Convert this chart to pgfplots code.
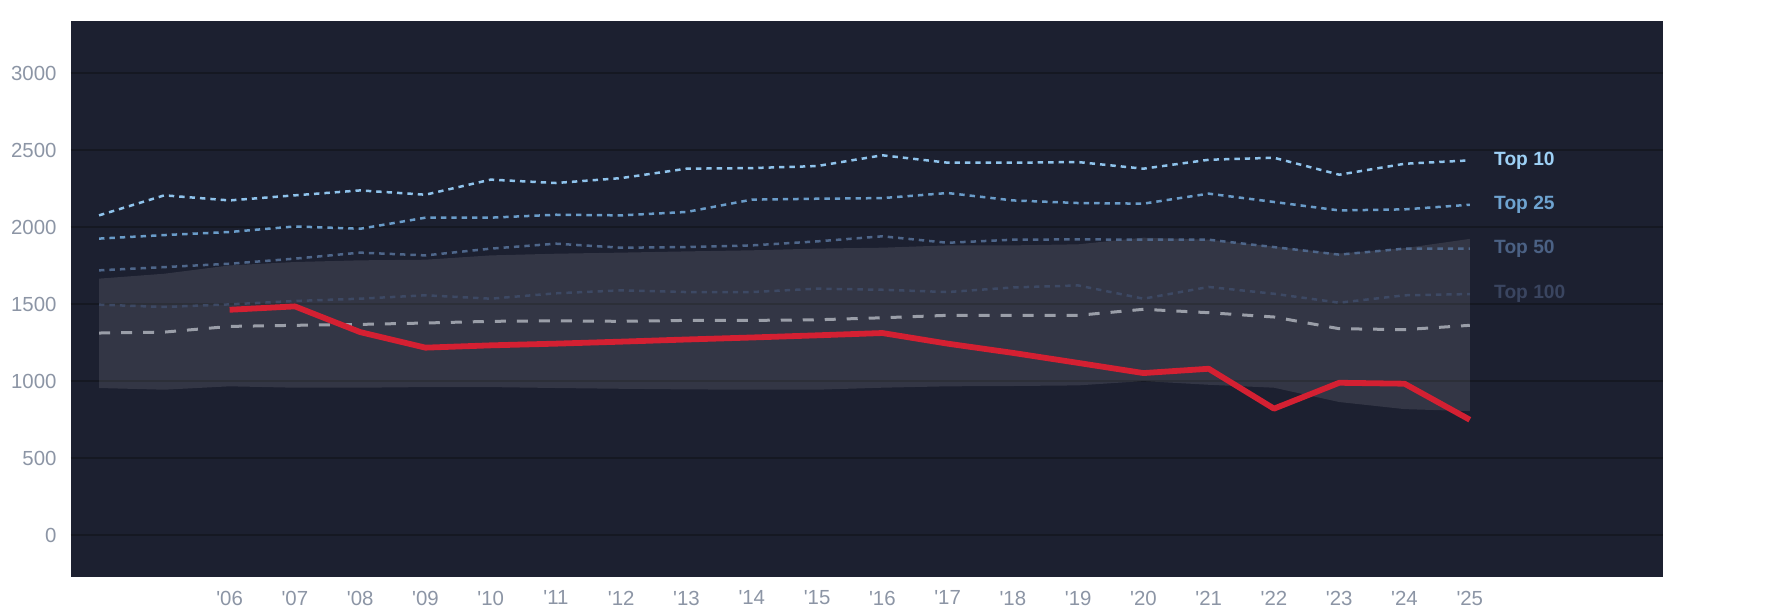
\documentclass[border=0pt]{standalone}
\usepackage{pgfplots}
\pgfplotsset{compat=1.18}
\usepackage{pgfplotstable}
\usepgfplotslibrary{fillbetween}
\usepackage{fontspec}
\setmainfont{Liberation Sans}

\definecolor{bg}{HTML}{1C2030}
\definecolor{gridc}{HTML}{151822}
\definecolor{tickc}{HTML}{8C95A5}
\definecolor{t10}{HTML}{8FC3EC}
\definecolor{t25}{HTML}{6A9CC9}
\definecolor{t50}{HTML}{4E668A}
\definecolor{t100}{HTML}{3D4964}
\definecolor{l10}{HTML}{9DD0F5}
\definecolor{l25}{HTML}{6EA3D0}
\definecolor{l50}{HTML}{4B6184}
\definecolor{l100}{HTML}{3A4560}
\definecolor{med}{HTML}{9A9EA8}
\definecolor{redl}{HTML}{D42032}

\pgfplotstableread{
year t10 t25 t50 t100 med btop bbot
2004 2078 1927 1721 1498 1314 1667 957
2005 2208 1950 1742 1483 1320 1699 946
2006 2175 1970 1764 1500 1357 1753 968
2007 2208 2006 1797 1522 1364 1775 959
2008 2240 1991 1836 1537 1370 1786 959
2009 2212 2063 1818 1559 1379 1790 963
2010 2310 2063 1862 1537 1390 1818 963
2011 2288 2082 1894 1572 1393 1829 957
2012 2320 2078 1868 1591 1390 1836 952
2013 2381 2100 1872 1580 1396 1844 948
2014 2385 2180 1883 1580 1396 1851 946
2015 2398 2186 1909 1602 1400 1862 946
2016 2468 2190 1942 1595 1413 1868 959
2017 2420 2223 1900 1580 1429 1883 968
2018 2420 2175 1920 1610 1429 1883 970
2019 2424 2158 1922 1623 1429 1890 974
2020 2381 2154 1920 1537 1468 1933 1002
2021 2439 2219 1920 1613 1446 1920 978
2022 2452 2165 1872 1569 1418 1875 959
2023 2342 2110 1823 1511 1342 1830 866
2024 2413 2117 1862 1559 1336 1865 820
2025 2435 2147 1862 1567 1364 1925 807
}\tiers

\pgfplotstableread{
year val
2006 1465
2007 1487
2008 1320
2009 1219
2010 1234
2011 1245
2012 1258
2013 1272
2014 1285
2015 1299
2016 1314
2017 1245
2018 1185
2019 1120
2020 1054
2021 1082
2022 823
2023 991
2024 985
2025 751
}\redtab

\begin{document}
\begin{tikzpicture}
\begin{axis}[
  at={(0,0)}, anchor=south west,
  scale only axis,
  width=796pt, height=278pt,
  xmin=2003.57, xmax=2027.96,
  ymin=-270, ymax=3340,
  axis background/.style={fill=bg},
  axis line style={draw=none},
  major tick length=0pt,
  ytick={0,500,1000,1500,2000,2500,3000},
  xtick={2006,2007,2008,2009,2010,2011,2012,2013,2014,2015,2016,2017,2018,2019,2020,2021,2022,2023,2024,2025},
  xticklabels={\textquotesingle06,\textquotesingle07,\textquotesingle08,\textquotesingle09,\textquotesingle10,\textquotesingle11,\textquotesingle12,\textquotesingle13,\textquotesingle14,\textquotesingle15,\textquotesingle16,\textquotesingle17,\textquotesingle18,\textquotesingle19,\textquotesingle20,\textquotesingle21,\textquotesingle22,\textquotesingle23,\textquotesingle24,\textquotesingle25},
  ymajorgrids,
  major grid style={draw=gridc, line width=1pt},
  tick label style={font=\fontsize{10.2}{12}\selectfont, text=tickc},
  yticklabel style={xshift=-3.7pt},
  xticklabel style={yshift=-3.4pt},
  /pgf/number format/1000 sep={},
  /pgf/number format/assume math mode=true,
  clip=false,
]
\addplot[draw=none, name path=btop, forget plot] table[x=year, y=btop] {\tiers};
\addplot[draw=none, name path=bbot, forget plot] table[x=year, y=bbot] {\tiers};
\addplot[fill=white, fill opacity=0.1, draw=none] fill between[of=btop and bbot];

\addplot[t100, line width=1.25pt, dash pattern=on 2.7pt off 2.5pt] table[x=year, y=t100] {\tiers};
\addplot[t50, line width=1.25pt, dash pattern=on 2.7pt off 2.5pt] table[x=year, y=t50] {\tiers};
\addplot[t25, line width=1.25pt, dash pattern=on 2.7pt off 2.5pt] table[x=year, y=t25] {\tiers};
\addplot[t10, line width=1.25pt, dash pattern=on 2.7pt off 2.5pt] table[x=year, y=t10] {\tiers};
\addplot[med, line width=1.5pt, dash pattern=on 5.5pt off 5.5pt] table[x=year, y=med] {\tiers};
\addplot[redl, line width=2.9pt, line join=round] table[x=year, y=val] {\redtab};

\node[anchor=west, inner sep=0pt, xshift=12pt, text=l10, font=\fontsize{9.6}{11}\selectfont\bfseries] at (axis cs:2025,2435) {Top 10};
\node[anchor=west, inner sep=0pt, xshift=12pt, text=l25, font=\fontsize{9.6}{11}\selectfont\bfseries] at (axis cs:2025,2147) {Top 25};
\node[anchor=west, inner sep=0pt, xshift=12pt, text=l50, font=\fontsize{9.6}{11}\selectfont\bfseries] at (axis cs:2025,1862) {Top 50};
\node[anchor=west, inner sep=0pt, xshift=12pt, text=l100, font=\fontsize{9.6}{11}\selectfont\bfseries] at (axis cs:2025,1567) {Top 100};
\end{axis}
\pgfresetboundingbox
\path[use as bounding box] (-35.5pt,-18.5pt) rectangle (857pt,288.5pt);
\end{tikzpicture}
\end{document}
